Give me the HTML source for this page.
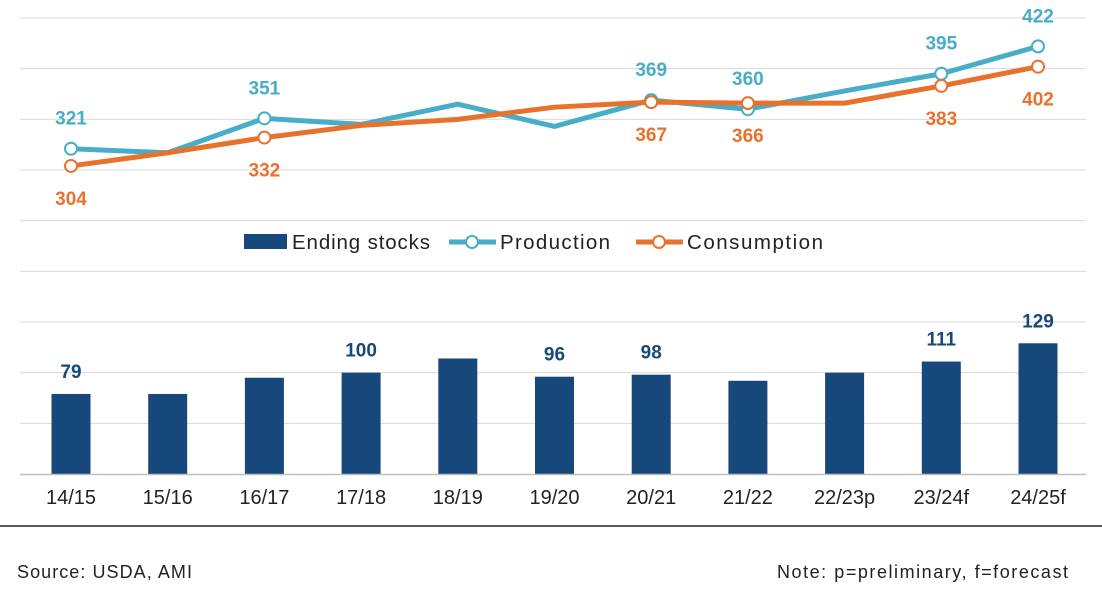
<!DOCTYPE html>
<html><head><meta charset="utf-8"><style>
body{margin:0;background:#fff;width:1102px;height:602px;overflow:hidden;font-family:"Liberation Sans","DejaVu Sans",sans-serif}
svg{display:block}
</style></head><body>
<svg id="c" width="1102" height="602"></svg>
<script>
const categories=["14/15","15/16","16/17","17/18","18/19","19/20","20/21","21/22","22/23p","23/24f","24/25f"];
const production=[321,317,351,345,365,343,369,360,378,395,422];
const consumption=[304,317,332,344,350,362,367,366,366,383,402];
const stocks=[79,79,95,100,114,96,98,92,100,111,129];
const prodLabels=[321,null,351,null,null,null,369,360,null,395,422];
const consLabels=[304,null,332,null,null,null,367,366,null,383,402];
const stockLabels=[79,null,null,100,null,96,98,null,null,111,129];
const gridVals=[0,50,100,150,200,250,300,350,400,450];

const NS="http://www.w3.org/2000/svg";
const svg=document.getElementById('c');
function mk(t,a,p){const e=document.createElementNS(NS,t);for(const k in a)e.setAttribute(k,a[k]);(p||svg).appendChild(e);return e;}
const y=v=>474-v*1.0133;
const x=i=>71+i*96.7;
const blue="#17487b",teal="#47adc8",orange="#e8722c";

gridVals.forEach(v=>{if(v===0)return;const g=mk('line',{x1:20,x2:1086,y1:y(v),y2:y(v),stroke:"#d9d9d9","stroke-width":1});

});

stocks.forEach((v,i)=>{const r=mk('rect',{x:x(i)-19.5,y:y(v),width:39,height:474-y(v),fill:blue});


if(stockLabels[i]!==null){const t=mk('text',{x:x(i),y:y(v)-16,'text-anchor':'middle','font-size':19,'font-weight':'bold',fill:blue});t.textContent=stockLabels[i];

}});

const ax=mk('line',{x1:20,x2:1086,y1:474.5,y2:474.5,stroke:"#bfbfbf","stroke-width":1.5});



function series(vals,col,name){
 const p=mk('polyline',{points:vals.map((v,i)=>x(i)+','+y(v)).join(' '),fill:'none',stroke:col,'stroke-width':5,'stroke-linejoin':'round'});
 
 
}
series(production,teal,'production');
series(consumption,orange,'consumption');
function markers(vals,labels,col,name,above){
 vals.forEach((v,i)=>{if(labels[i]===null)return;
  const c=mk('circle',{cx:x(i),cy:y(v),r:6,fill:'#fff',stroke:col,'stroke-width':2});
  
  
  const t=mk('text',{x:x(i),y:above?y(v)-24:y(v)+39,'text-anchor':'middle','font-size':19,'font-weight':'bold',fill:col});
  t.textContent=labels[i];
  
  });
}
markers(production,prodLabels,teal,'production',true);
markers(consumption,consLabels,orange,'consumption',false);

categories.forEach((c,i)=>{const t=mk('text',{x:x(i),y:504,'text-anchor':'middle','font-size':20,fill:'#222'});t.textContent=c;

});

// legend
const lg=mk('g',{});


mk('rect',{x:244,y:234,width:43,height:15,fill:blue},lg);
let t=mk('text',{x:292,y:249,'font-size':20.5,fill:'#222',textLength:138},lg);t.textContent="Ending stocks";
mk('line',{x1:449,x2:496,y1:242,y2:242,stroke:teal,'stroke-width':5},lg);
mk('circle',{cx:472,cy:242,r:6,fill:'#fff',stroke:teal,'stroke-width':2},lg);
t=mk('text',{x:500,y:249,'font-size':20.5,fill:'#222',textLength:110},lg);t.textContent="Production";
mk('line',{x1:636,x2:683,y1:242,y2:242,stroke:orange,'stroke-width':5},lg);
mk('circle',{cx:659,cy:242,r:6,fill:'#fff',stroke:orange,'stroke-width':2},lg);
t=mk('text',{x:687,y:249,'font-size':20.5,fill:'#222',textLength:136},lg);t.textContent="Consumption";

const bl=mk('line',{x1:0,x2:1102,y1:526,y2:526,stroke:'#222','stroke-width':1.5});


t=mk('text',{x:17,y:578,'font-size':18,fill:'#222',textLength:175});t.textContent="Source: USDA, AMI";


t=mk('text',{x:777,y:578,'font-size':18,fill:'#222',textLength:291});t.textContent="Note: p=preliminary, f=forecast";


</script>
</body></html>
